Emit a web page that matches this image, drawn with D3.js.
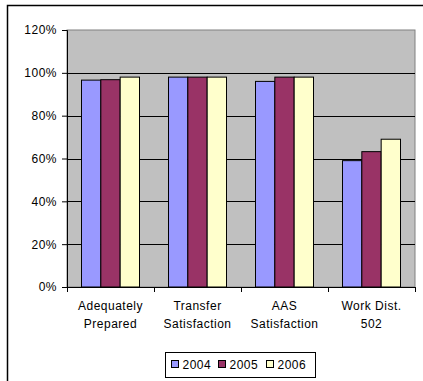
<!DOCTYPE html>
<html>
<head>
<meta charset="utf-8">
<script src="https://cdn.jsdelivr.net/npm/d3@7"></script>
<style>
  body { margin: 0; background: #fff; }
  text { font-family: "Liberation Sans", Arial, sans-serif; font-size: 12px; letter-spacing: 0.5px; fill: #000; }
</style>
</head>
<body>
<div id="wrapper"></div>
<script>
const categories = [["Adequately", "Prepared"], ["Transfer", "Satisfaction"], ["AAS", "Satisfaction"], ["Work Dist.", "502"]];
const years = ["2004", "2005", "2006"];
const v2004 = [0.966, 0.98, 0.96, 0.59];
const v2005 = [0.968, 0.98, 0.98, 0.632];
const v2006 = [0.98, 0.98, 0.98, 0.69];
const colors = ["#9999FF", "#993366", "#FFFFCC"];
const yTicks = [0, 0.2, 0.4, 0.6, 0.8, 1.0, 1.2];

const series = [v2004, v2005, v2006];

const dimension = {
    width: 423,
    height: 381,
    margin: { top: 30, left: 67, bottom: 94, right: 8 }
};
dimension.boundedWidth = dimension.width - dimension.margin.left - dimension.margin.right;
dimension.boundedHeight = dimension.height - dimension.margin.top - dimension.margin.bottom;

const svg = d3.select("#wrapper").append("svg")
    .attr("width", dimension.width)
    .attr("height", dimension.height);

// outer chart frame (cut at right and bottom)
svg.append("path")
    .attr("d", "M7.5,381 V5.5 H423")
    .attr("fill", "none")
    .attr("stroke", "#000")
    .attr("stroke-width", 1.5);

const bounded = svg.append("g")
    .attr("transform", `translate(${dimension.margin.left}, ${dimension.margin.top})`);

const xScaler = d3.scaleBand()
    .domain(d3.range(categories.length))
    .range([0, dimension.boundedWidth])
    .paddingInner(0)
    .paddingOuter(0);

const yScaler = d3.scaleLinear()
    .domain([0, 1.2])
    .range([dimension.boundedHeight, 0]);

// plot area
bounded.append("rect")
    .attr("width", dimension.boundedWidth)
    .attr("height", dimension.boundedHeight)
    .attr("fill", "#C0C0C0")
    .attr("stroke", "#808080");

// gridlines
bounded.selectAll(".grid")
    .data(yTicks.filter(d => d > 0 && d < 1.2))
    .join("line")
    .attr("x1", 0)
    .attr("x2", dimension.boundedWidth)
    .attr("y1", d => Math.round(yScaler(d)) + 0.5)
    .attr("y2", d => Math.round(yScaler(d)) + 0.5)
    .attr("stroke", "#000");

// bars
const bw = xScaler.bandwidth() / 4.5;
series.forEach((vals, s) => {
    bounded.selectAll(".bar" + s)
        .data(vals)
        .join("rect")
        .attr("x", (d, i) => xScaler(i) + bw * 0.75 + s * bw)
        .attr("y", d => yScaler(d))
        .attr("width", bw)
        .attr("height", d => dimension.boundedHeight - yScaler(d))
        .attr("fill", colors[s])
        .attr("stroke", "#000")
        .attr("stroke-width", 1);
});

// y axis
const yAxis = d3.axisLeft(yScaler)
    .tickValues(yTicks)
    .tickFormat(d3.format(".0%"))
    .tickSize(5)
    .tickPadding(5);
bounded.append("g")
    .call(yAxis)
    .call(g => g.select(".domain").attr("stroke", "#000"))
    .call(g => g.selectAll("text").attr("font-size", null).attr("font-family", null));

// x axis
const xEdge = d3.scaleLinear().domain([0, categories.length]).range([0, dimension.boundedWidth]);
const xAxis = d3.axisBottom(xEdge)
    .tickValues(d3.range(categories.length + 1))
    .tickFormat("")
    .tickSize(5)
    .tickSizeOuter(0);
bounded.append("g")
    .attr("transform", `translate(0, ${dimension.boundedHeight})`)
    .call(xAxis);

bounded.selectAll(".xlabel")
    .data(categories)
    .join("text")
    .attr("text-anchor", "middle")
    .attr("transform", (d, i) => `translate(${xScaler(i) + xScaler.bandwidth() / 2}, ${dimension.boundedHeight + 23})`)
    .selectAll("tspan")
    .data(d => d)
    .join("tspan")
    .attr("x", 0)
    .attr("y", (d, i) => i * 18)
    .text(d => d);

// legend
const legend = svg.append("g").attr("transform", "translate(165.5, 352.5)");
legend.append("rect")
    .attr("width", 150)
    .attr("height", 25)
    .attr("fill", "#fff")
    .attr("stroke", "#000");
const legendX = [6, 53, 101];
const item = legend.selectAll(".item")
    .data(years)
    .join("g")
    .attr("transform", (d, i) => `translate(${legendX[i]}, 0)`);
item.append("rect")
    .attr("x", 0).attr("y", 8)
    .attr("width", 7).attr("height", 7)
    .attr("fill", (d, i) => colors[i])
    .attr("stroke", "#000");
item.append("text")
    .attr("x", 11)
    .attr("y", 16.5)
    .text(d => d);
</script>
</body>
</html>
